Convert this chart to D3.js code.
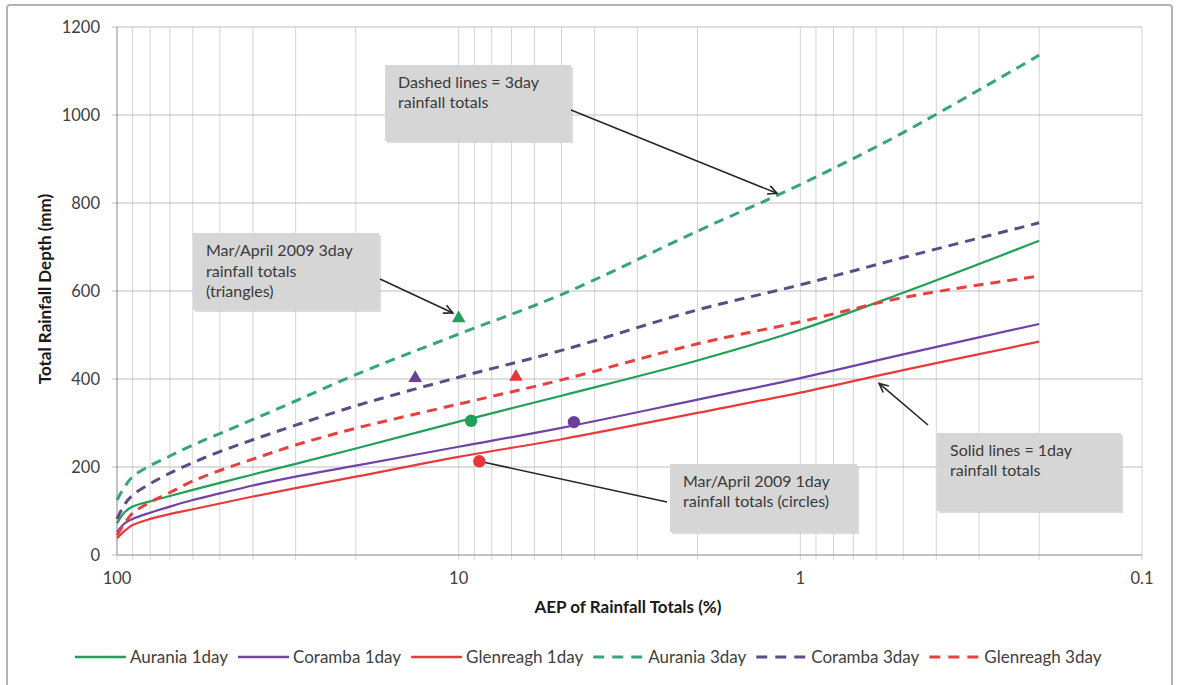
<!DOCTYPE html>
<html>
<head>
<meta charset="utf-8">
<script src="https://cdn.jsdelivr.net/npm/d3@7/dist/d3.min.js"></script>
<style>
  html, body { margin: 0; padding: 0; background: #ffffff; }
  svg { display: block; font-family: Lato, "Open Sans", "Liberation Sans", sans-serif; }
</style>
</head>
<body>
<svg id="chart" width="1177" height="685"></svg>
<script>
// Annual exceedance probability (%) at which each design curve is given
const aep = [100, 95, 90, 80, 70, 60, 50, 40, 30, 20, 10, 5, 2, 1, 0.5, 0.2];

// Design rainfall depths (mm)
const auraniaOneDay   = [72, 97, 110, 122, 134, 148, 164, 183, 207, 242, 303, 362, 442, 512, 596, 714];
const corambaOneDay   = [52, 72, 82, 96, 110, 125, 140, 158, 178, 203, 246, 289, 353, 402, 456, 525];
const glenreaghOneDay = [38, 55, 68, 82, 93, 104, 117, 133, 152, 178, 223, 263, 323, 369, 420, 485];
const auraniaThreeDay   = [125, 155, 178, 203, 225, 250, 276, 308, 350, 410, 502, 592, 736, 842, 960, 1136];
const corambaThreeDay   = [82, 115, 136, 162, 186, 210, 235, 262, 295, 339, 404, 465, 557, 614, 676, 755];
const glenreaghThreeDay = [45, 72, 95, 120, 142, 168, 192, 218, 250, 288, 343, 398, 480, 530, 585, 634];

// Observed Mar/April 2009 event totals: station, AEP (%), depth (mm)
const eventStations = ["Aurania", "Coramba", "Glenreagh"];
const event3dayAep   = [10.0, 13.4, 6.8];
const event3dayDepth = [538, 402, 405];
const event1dayAep   = [9.2, 4.6, 8.7];
const event1dayDepth = [305, 302, 213];

// Axis ticks
const xTickValues = [100, 10, 1, 0.1];
const xTickLabels = ["100", "10", "1", "0.1"];
const yTickValues = [0, 200, 400, 600, 800, 1000, 1200];

const seriesNames = ["Aurania 1day", "Coramba 1day", "Glenreagh 1day",
                     "Aurania 3day", "Coramba 3day", "Glenreagh 3day"];
const seriesValues = [auraniaOneDay, corambaOneDay, glenreaghOneDay,
                      auraniaThreeDay, corambaThreeDay, glenreaghThreeDay];

// Styling
const colours = {
  "Aurania 1day": "#20a058", "Coramba 1day": "#7043a6", "Glenreagh 1day": "#e83a3c",
  "Aurania 3day": "#35a57c", "Coramba 3day": "#5f4a86", "Glenreagh 3day": "#e8403f"
};
const stationColour = { Aurania: "#20a058", Coramba: "#6a3f9c", Glenreagh: "#e5383a" };
const dashPattern = "10,7";

const svg = d3.select("#chart");

// Outer chart frame
svg.append("rect")
  .attr("x", 7).attr("y", 5).attr("width", 1165).attr("height", 700)
  .attr("rx", 3)
  .attr("fill", "#ffffff").attr("stroke", "#b3b3b3").attr("stroke-width", 2);

const plot = { left: 117, right: 1142, top: 27, bottom: 555 };

const x = d3.scaleLog().domain([100, 0.1]).range([plot.left, plot.right]);
const y = d3.scaleLinear().domain([0, 1200]).range([plot.bottom, plot.top]);

const grid = svg.append("g");

// Vertical gridlines at every log sub-division
grid.selectAll("line.vgrid")
  .data(x.ticks())
  .join("line")
  .attr("class", "vgrid")
  .attr("x1", d => x(d)).attr("x2", d => x(d))
  .attr("y1", plot.top).attr("y2", plot.bottom + 5)
  .attr("stroke", "#d4d4d4").attr("stroke-width", 1);

// Horizontal gridlines
grid.selectAll("line.hgrid")
  .data(yTickValues)
  .join("line")
  .attr("class", "hgrid")
  .attr("x1", plot.left - 5).attr("x2", plot.right)
  .attr("y1", d => y(d)).attr("y2", d => y(d))
  .attr("stroke", "#bdbdbd").attr("stroke-width", 1);

// Axis lines
grid.append("line")
  .attr("x1", plot.left).attr("x2", plot.left)
  .attr("y1", plot.top).attr("y2", plot.bottom)
  .attr("stroke", "#a8a8a8").attr("stroke-width", 1.2);
grid.append("line")
  .attr("x1", plot.left).attr("x2", plot.right)
  .attr("y1", plot.bottom).attr("y2", plot.bottom)
  .attr("stroke", "#a8a8a8").attr("stroke-width", 1.2);

// Y tick labels
svg.append("g").selectAll("text")
  .data(yTickValues)
  .join("text")
  .attr("x", 100).attr("y", d => y(d))
  .attr("dy", "0.36em")
  .attr("text-anchor", "end")
  .attr("font-size", 16.5)
  .attr("fill", "#404040")
  .text(d => d);

// X tick labels
svg.append("g").selectAll("text")
  .data(xTickValues)
  .join("text")
  .attr("x", d => x(d)).attr("y", 578)
  .attr("dy", "0.36em")
  .attr("text-anchor", "middle")
  .attr("font-size", 16.5)
  .attr("fill", "#404040")
  .text((d, i) => xTickLabels[i]);

// Axis titles
svg.append("text")
  .attr("x", 628).attr("y", 607).attr("dy", "0.36em")
  .attr("text-anchor", "middle")
  .attr("font-size", 17).attr("font-weight", "bold").attr("fill", "#1a1a1a")
  .text("AEP of Rainfall Totals (%)");
svg.append("text")
  .attr("transform", "translate(45,289) rotate(-90)")
  .attr("dy", "0.36em")
  .attr("text-anchor", "middle")
  .attr("font-size", 17).attr("font-weight", "bold").attr("fill", "#1a1a1a")
  .text("Total Rainfall Depth (mm)");

// Design curves
const line = d3.line()
  .x(d => x(d[0]))
  .y(d => y(d[1]))
  .curve(d3.curveCatmullRom.alpha(0.5));

const curves = svg.append("g");
seriesNames.forEach((name, i) => {
  const pts = aep.map((a, j) => [a, seriesValues[i][j]]);
  const dashed = name.includes("3day");
  curves.append("path")
    .attr("d", line(pts))
    .attr("fill", "none")
    .attr("stroke", colours[name])
    .attr("stroke-width", dashed ? 3 : 2.2)
    .attr("stroke-dasharray", dashed ? dashPattern : null)
    .attr("stroke-linejoin", "round");
});

// Annotation boxes and arrows
const annot = svg.append("g");
const boxFill = "#d6d6d6";
const arrowColour = "#262626";

function box(x0, y0, w, h, lines, lineGap) {
  annot.append("rect")
    .attr("x", x0 + 2).attr("y", y0 + 2).attr("width", w).attr("height", h)
    .attr("fill", "#c4c4c4").attr("opacity", 0.6);
  annot.append("rect")
    .attr("x", x0).attr("y", y0).attr("width", w).attr("height", h)
    .attr("fill", boxFill);
  lines.forEach((t, k) => {
    annot.append("text")
      .attr("x", x0 + 13).attr("y", y0 + 23 + k * lineGap)
      .attr("font-size", 16).attr("fill", "#3a3a3a")
      .text(t);
  });
}

function arrow(x1, y1, x2, y2, head) {
  annot.append("line")
    .attr("x1", x1).attr("y1", y1).attr("x2", x2).attr("y2", y2)
    .attr("stroke", arrowColour).attr("stroke-width", 1.6);
  if (head) {
    const ang = Math.atan2(y2 - y1, x2 - x1);
    const L = 10, spread = 0.45;
    const p1 = [x2 - L * Math.cos(ang - spread), y2 - L * Math.sin(ang - spread)];
    const p2 = [x2 - L * Math.cos(ang + spread), y2 - L * Math.sin(ang + spread)];
    annot.append("path")
      .attr("d", `M${p1[0]},${p1[1]}L${x2},${y2}L${p2[0]},${p2[1]}`)
      .attr("fill", "none").attr("stroke", arrowColour).attr("stroke-width", 1.6);
  }
}

// "Dashed lines" note pointing at the Aurania 3day curve
box(385, 65, 186, 76, ["Dashed lines = 3day", "rainfall totals"], 20);
arrow(571, 110, x(1.17), y(822), true);

// Triangles note pointing at the Aurania 3day event
box(193, 233, 186, 77, ["Mar/April 2009 3day", "rainfall totals", "(triangles)"], 20.5);
arrow(380, 279, x(10.4), y(550), true);

// Circles note pointing at the Glenreagh 1day event
box(670, 464, 187, 68, ["Mar/April 2009 1day", "rainfall totals (circles)"], 19.5);
arrow(667, 502, x(event1dayAep[2]), y(event1dayDepth[2]), false);

// "Solid lines" note pointing at the Glenreagh 1day curve
box(937, 433, 184, 78, ["Solid lines = 1day", "rainfall totals"], 20);
arrow(928, 425, x(0.588), y(390), true);

// Event markers
const markers = svg.append("g");
markers.selectAll("path.tri")
  .data(eventStations)
  .join("path")
  .attr("class", "tri")
  .attr("transform", (s, i) => `translate(${x(event3dayAep[i])},${y(event3dayDepth[i])})`)
  .attr("d", d3.symbol().type(d3.symbolTriangle).size(80))
  .attr("fill", s => stationColour[s]);

markers.selectAll("circle")
  .data(eventStations)
  .join("circle")
  .attr("cx", (s, i) => x(event1dayAep[i]))
  .attr("cy", (s, i) => y(event1dayDepth[i]))
  .attr("r", 6.2)
  .attr("fill", s => stationColour[s]);

// Legend
const legend = svg.append("g");
let lx = 75;
const ly = 657;
seriesNames.forEach(name => {
  const dashed = name.includes("3day");
  legend.append("line")
    .attr("x1", lx).attr("x2", lx + 51)
    .attr("y1", ly).attr("y2", ly)
    .attr("stroke", colours[name])
    .attr("stroke-width", dashed ? 3 : 2.5)
    .attr("stroke-dasharray", dashed ? "11,8" : null);
  const t = legend.append("text")
    .attr("x", lx + 55).attr("y", ly).attr("dy", "0.36em")
    .attr("font-size", 17).attr("fill", "#404040")
    .text(name);
  lx += 55 + t.node().getComputedTextLength() + 10;
});
</script>
</body>
</html>
